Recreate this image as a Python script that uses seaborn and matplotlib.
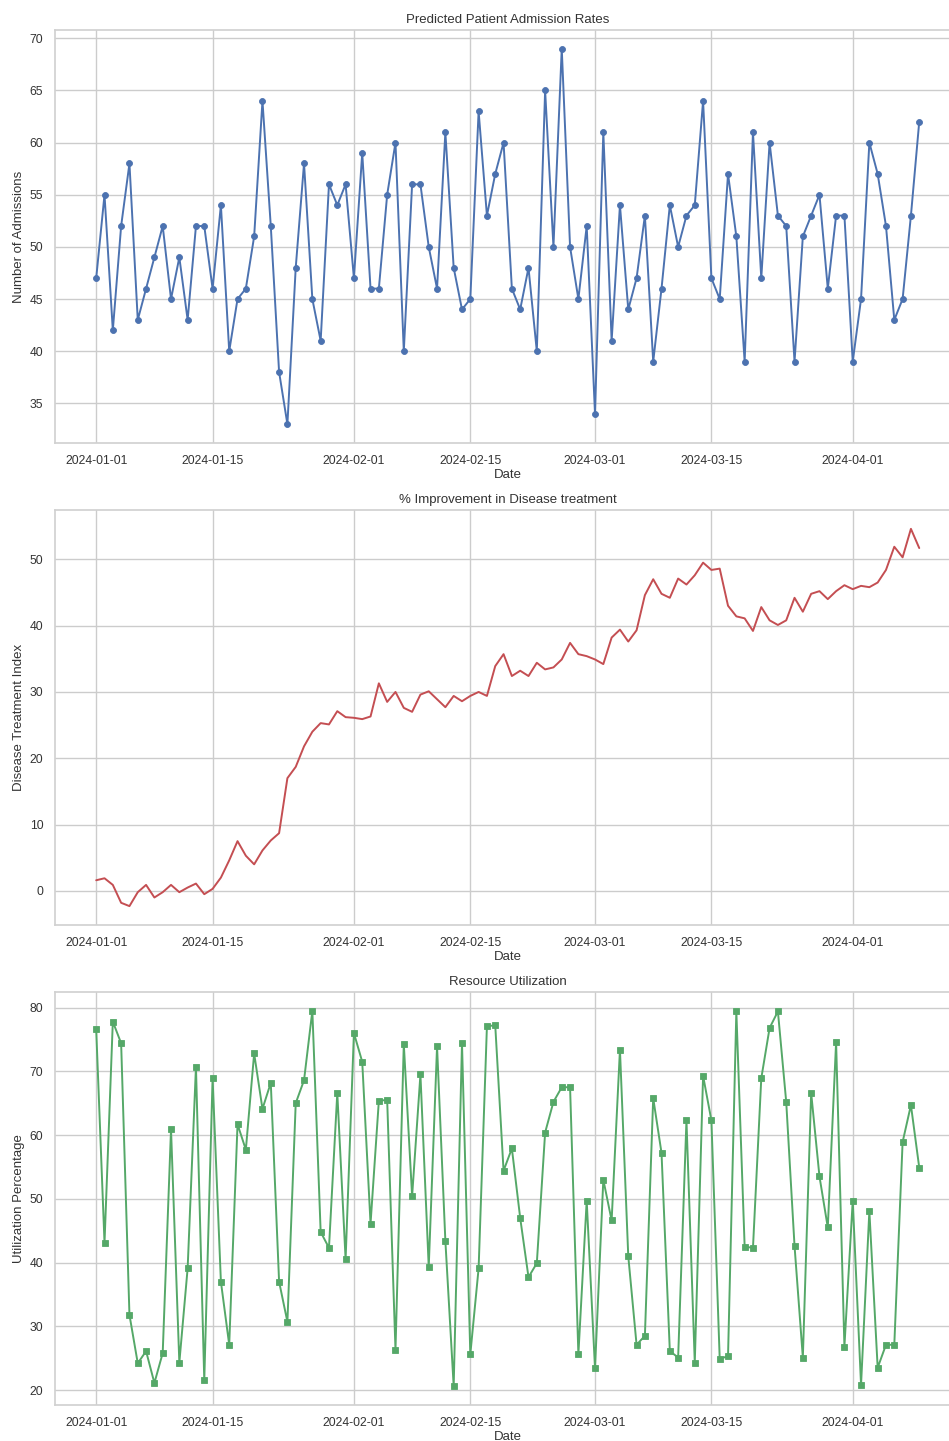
import pandas as pd
import seaborn as sns
import matplotlib.pyplot as plt
import matplotlib.dates as mdates

# --- DATOS ---
dates = pd.date_range('2024-01-01', periods=100, freq='D')

admissions = [47, 55, 42, 52, 58, 43, 46, 49, 52, 45,
              49, 43, 52, 52, 46, 54, 40, 45, 46, 51,
              64, 52, 38, 33, 48, 58, 45, 41, 56, 54,
              56, 47, 59, 46, 46, 55, 60, 40, 56, 56,
              50, 46, 61, 48, 44, 45, 63, 53, 57, 60,
              46, 44, 48, 40, 65, 50, 69, 50, 45, 52,
              34, 61, 41, 54, 44, 47, 53, 39, 46, 54,
              50, 53, 54, 64, 47, 45, 57, 51, 39, 61,
              47, 60, 53, 52, 39, 51, 53, 55, 46, 53,
              53, 39, 45, 60, 57, 52, 43, 45, 53, 62]

treatment_index = [1.6, 1.9, 0.9, -1.8, -2.3, -0.2, 0.9, -1.0, -0.2, 0.9,
                   -0.2, 0.5, 1.1, -0.5, 0.3, 2.0, 4.6, 7.5, 5.3, 4.0,
                   6.1, 7.6, 8.7, 17.0, 18.7, 21.8, 24.0, 25.3, 25.1, 27.1,
                   26.2, 26.1, 25.9, 26.3, 31.3, 28.5, 30.0, 27.6, 27.0, 29.6,
                   30.1, 28.9, 27.7, 29.4, 28.6, 29.4, 30.0, 29.4, 33.9, 35.7,
                   32.4, 33.2, 32.4, 34.4, 33.4, 33.7, 34.9, 37.4, 35.7, 35.4,
                   34.9, 34.2, 38.2, 39.4, 37.6, 39.3, 44.6, 47.0, 44.8, 44.2,
                   47.1, 46.2, 47.6, 49.5, 48.4, 48.6, 43.0, 41.4, 41.1, 39.2,
                   42.8, 40.8, 40.1, 40.8, 44.2, 42.1, 44.8, 45.2, 44.0, 45.2,
                   46.1, 45.5, 46.0, 45.8, 46.5, 48.4, 51.9, 50.3, 54.6, 51.7]

utilization = [76.6, 43.1, 77.8, 74.4, 31.8, 24.2, 26.1, 21.1, 25.8, 60.9,
               24.3, 39.1, 70.7, 21.5, 68.9, 37.0, 27.1, 61.7, 57.7, 72.8,
               64.1, 68.2, 37.0, 30.7, 65.0, 68.6, 79.5, 44.8, 42.3, 66.6,
               40.5, 76.0, 71.5, 46.1, 65.4, 65.5, 26.3, 74.3, 50.4, 69.5,
               39.3, 73.9, 43.4, 20.6, 74.4, 25.6, 39.1, 77.1, 77.2, 54.4,
               57.9, 47.0, 37.7, 39.9, 60.4, 65.2, 67.5, 67.5, 25.6, 49.7,
               23.4, 53.0, 46.6, 73.4, 41.0, 27.1, 28.5, 65.8, 57.2, 26.1,
               25.1, 62.3, 24.3, 69.3, 62.3, 24.9, 25.3, 79.4, 42.5, 42.3,
               68.9, 76.8, 79.4, 65.2, 42.6, 25.1, 66.6, 53.5, 45.5, 74.6,
               26.8, 49.7, 20.8, 48.1, 23.5, 27.1, 27.1, 58.9, 64.7, 54.9]

titles = ['Predicted Patient Admission Rates',
          '% Improvement in Disease treatment',
          'Resource Utilization']
ylabels = ['Number of Admissions', 'Disease Treatment Index', 'Utilization Percentage']

# --- ESTILO ---
sns.set_theme(style='whitegrid', color_codes=True)
plt.rcParams['font.family'] = ['Liberation Sans', 'DejaVu Sans']
plt.rcParams['text.color'] = '.2'
plt.rcParams['axes.labelcolor'] = '.2'
plt.rcParams['xtick.color'] = '.2'
plt.rcParams['ytick.color'] = '.2'

fig = plt.figure(figsize=(9.49, 14.41), dpi=100)

# posiciones de los paneles (el borde derecho queda recortado como en la captura)
left, width = 0.058, 0.954
bottoms = [0.6926, 0.3581, 0.0250]
heights = [0.2866, 0.2880, 0.2866]
axes = [fig.add_axes([left, b, width, h]) for b, h in zip(bottoms, heights)]

series = [admissions, treatment_index, utilization]
colors = ['b', 'r', 'g']
markers = ['o', None, 's']

for ax, vals, col, mk, title, ylab in zip(axes, series, colors, markers,
                                          titles, ylabels):
    kw = {}
    if mk:
        kw = dict(marker=mk, markersize=4.3, markeredgecolor=col,
                  markeredgewidth=0.6)
    sns.lineplot(x=dates, y=vals, color=col, linewidth=1.4, ax=ax, **kw)
    ax.set_title(title, fontsize=9.5, pad=5)
    ax.set_xlabel('Date', fontsize=9.5, labelpad=1)
    ax.set_ylabel(ylab, fontsize=9.5, labelpad=3)
    ax.xaxis.set_major_locator(mdates.DayLocator(bymonthday=[1, 15]))
    ax.xaxis.set_major_formatter(mdates.DateFormatter('%Y-%m-%d'))
    ax.tick_params(axis='x', labelsize=8.7, pad=3)
    ax.tick_params(axis='y', labelsize=8.7, pad=2.5)
    for s in ax.spines.values():
        s.set_color('.82')

fig.savefig('out.png', dpi=100)
plt.close()
